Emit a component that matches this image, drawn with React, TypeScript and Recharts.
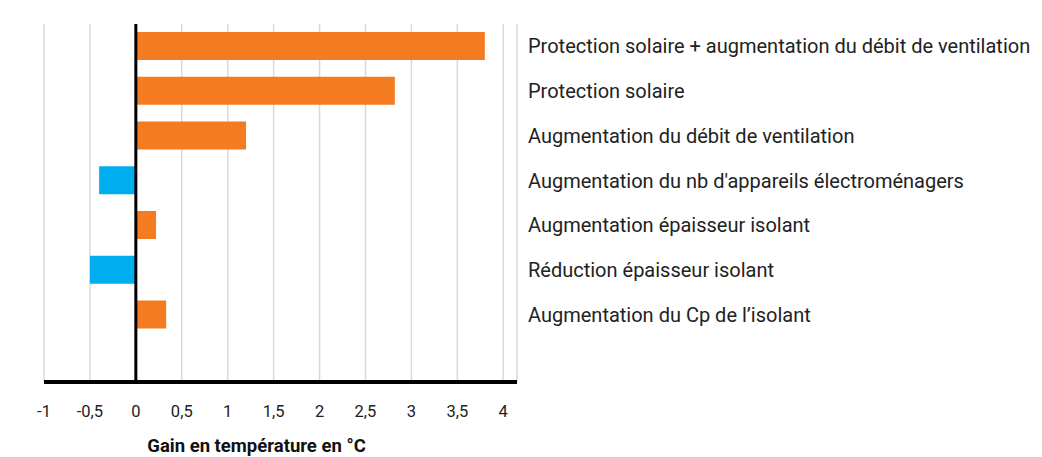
import React from "react";
import { BarChart, Bar, XAxis, YAxis, CartesianGrid, ReferenceLine, Cell } from "recharts";

const categories = [
  "Protection solaire + augmentation du débit de ventilation",
  "Protection solaire",
  "Augmentation du débit de ventilation",
  "Augmentation du nb d'appareils électroménagers",
  "Augmentation épaisseur isolant",
  "Réduction épaisseur isolant",
  "Augmentation du Cp de l’isolant",
  "",
];
const gains: (number | null)[] = [3.8, 2.82, 1.2, -0.4, 0.22, -0.5, 0.33, null];
const xTicks = [-1, -0.5, 0, 0.5, 1, 1.5, 2, 2.5, 3, 3.5, 4];
const axisTitle = "Gain en température en °C";

const ORANGE = "#F47B20";
const BLUE = "#00AEEF";
const FONT = "Roboto, 'Noto Sans', sans-serif";

const data = categories.map((c, i) => ({ name: c, value: gains[i] }));

export default function App() {
  return (
    <div style={{ width: 1034, height: 449, background: "#fff" }}>
      <BarChart
        width={1034}
        height={449}
        data={data}
        layout="vertical"
        margin={{ top: 16, right: 0, bottom: 0, left: 36 }}
        barSize={28}
      >
        <CartesianGrid horizontal={false} stroke="#d9d9d9" strokeWidth={1.5} />
        <XAxis
          type="number"
          domain={[-1, 4.15]}
          ticks={xTicks}
          allowDataOverflow
          tickFormatter={(v: number) => String(v).replace(".", ",")}
          axisLine={{ stroke: "#000", strokeWidth: 4 }}
          tickLine={false}
          tickSize={0}
          tickMargin={23}
          height={75}
          tick={{ fill: "#222", fontSize: 16.5, fontFamily: FONT }}
          label={{
            value: axisTitle,
            position: "insideBottom",
            offset: 5,
            dx: -24,
            fill: "#111",
            fontSize: 18.5,
            fontWeight: 700,
            fontFamily: FONT,
          }}
        />
        <YAxis
          type="category"
          dataKey="name"
          orientation="right"
          width={525}
          axisLine={false}
          tickLine={false}
          tickSize={0}
          tickMargin={11}
          interval={0}
          tick={{ fill: "#222", fontSize: 20, fontFamily: FONT, textAnchor: "start" }}
        />
        <Bar dataKey="value" isAnimationActive={false}>
          {data.map((d, i) => (
            <Cell key={i} fill={(d.value ?? 0) < 0 ? BLUE : ORANGE} />
          ))}
        </Bar>
        <ReferenceLine x={0} stroke="#000" strokeWidth={3} ifOverflow="extendDomain" />
      </BarChart>
    </div>
  );
}
